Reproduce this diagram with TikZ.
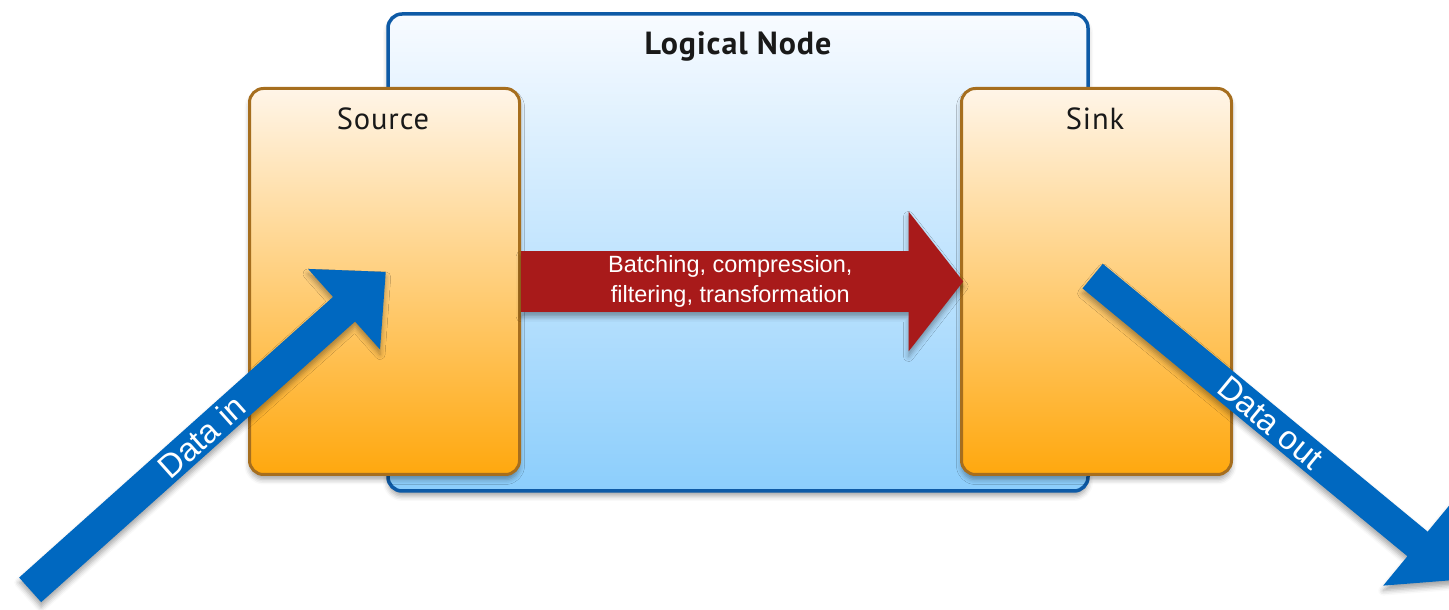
\documentclass[tikz,border=0pt]{standalone}
\usepackage{fontspec}
\setmainfont{Liberation Sans}
\newfontfamily\boxfont[LetterSpace=3]{PT Sans}
\usetikzlibrary{shapes.arrows,shadows.blur}
\definecolor{lnborder}{HTML}{0D5AA6}
\definecolor{lntop}{HTML}{F8FBFF}
\definecolor{lnbot}{HTML}{8CCEFC}
\definecolor{boxborder}{HTML}{A66E1E}
\definecolor{boxtop}{HTML}{FFF5E8}
\definecolor{boxbot}{HTML}{FFA80E}
\definecolor{flowred}{HTML}{A81A1A}
\definecolor{datablue}{HTML}{0068C0}
\begin{document}
\begin{tikzpicture}[x=1pt,y=1pt,
  soft/.style={blur shadow={shadow xshift=0pt, shadow yshift=-5pt,
      shadow blur radius=5pt, shadow opacity=35}},
  logical/.style={draw=lnborder, line width=3.5pt, rounded corners=14pt,
      top color=lntop, bottom color=lnbot, minimum width=700,
      minimum height=477, inner sep=0pt, soft},
  endpoint/.style={draw=boxborder, line width=3pt, rounded corners=14pt,
      top color=boxtop, bottom color=boxbot, minimum width=270,
      minimum height=386, inner sep=0pt, soft},
  boxlabel/.style={font=\boxfont\fontsize{30.5}{34}\selectfont,
      text=black!90, anchor=base, inner sep=0pt},
  dataarrow/.style={single arrow, fill=datablue, minimum width=108,
      single arrow head extend=28, minimum height=477,
      single arrow tip angle=88, inner sep=0pt, text=white,
      font=\fontsize{33}{36}\selectfont, soft},
  flowarrow/.style={single arrow, fill=flowred, minimum width=140,
      single arrow head extend=34, minimum height=442,
      single arrow tip angle=104, inner sep=0pt, text=white,
      align=center, font=\fontsize{23.5}{30}\selectfont, soft}
]
\useasboundingbox (0,0) rectangle (1449,610);

% containers
\node[logical] (logical) at (738,357.5) {};
\node[endpoint] (source) at (384.5,328.5) {};
\node[endpoint] (sink) at (1096.5,328.5) {};

% titles
\node[boxlabel, font=\boxfont\bfseries\fontsize{32}{36}\selectfont]
  (logicallbl) at (738,555) {Logical Node};
\node[boxlabel] (sourcelbl) at (383,480) {Source};
\node[boxlabel] (sinklbl) at (1095,480) {Sink};

% processing between source and sink
\node[flowarrow, anchor=tail] (flow) at (source.east)
  {Batching, compression,\\filtering, transformation};

% data entering and leaving
\coordinate (inlet) at (30,20);
\coordinate (outlet) at (1092.5,334);
\node[dataarrow, rotate=41.8, anchor=tail] (datain) at (inlet) {Data in};
\node[dataarrow, rotate=-39.5, anchor=tail] (dataout) at (outlet) {Data out};
\end{tikzpicture}
\end{document}
